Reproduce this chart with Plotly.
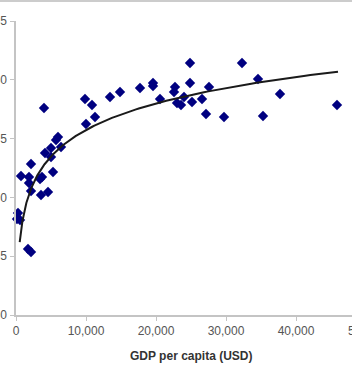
import plotly.graph_objects as go
import numpy as np

# GDP per capita (USD) and life expectancy (years)
gdp = [286, 143, 571, 1714, 2143, 714, 1857, 1857, 2143, 2143,
       3429, 3714, 3571, 4571, 5286, 4143, 5000, 5000, 6000, 6429,
       5714, 4000, 9857, 10857, 11286, 10000, 13429, 14857, 17714, 19571,
       19571, 20571, 22714, 22571, 24857, 24857, 24000, 23000, 23571, 25143,
       26571, 27143, 27571, 29714, 32286, 34571, 35286, 37714, 45857]
life = [68.67, 68.16, 68.08, 65.61, 65.36, 71.82, 71.73, 71.22, 72.84, 70.54,
        71.56, 71.73, 70.20, 70.46, 72.16, 73.78, 74.20, 73.44, 75.14, 74.29,
        74.88, 77.60, 78.37, 77.86, 76.84, 76.24, 78.54, 78.96, 79.30, 79.73,
        79.47, 78.37, 79.39, 78.96, 81.43, 79.73, 78.54, 78.03, 77.86, 78.11,
        78.37, 77.09, 79.39, 76.84, 81.43, 80.07, 76.92, 78.79, 77.86]

# logarithmic trendline shown in the picture: life = A + B * ln(gdp)
trend_a = 45.8
trend_b = 3.25
trend_x_start = 530
trend_x_end = 46000

x_ticks = [0, 10000, 20000, 30000, 40000, 50000]
x_tick_text = ["0", "10,000", "20,000", "30,000", "40,000", "50,000"]
y_ticks = [60, 65, 70, 75, 80, 85]
x_title = "GDP per capita (USD)"

X_MAX = 48000
W, H = 352, 380
ML, MR, MT, MB = 16, 0, 21, 65
PW, PH = W - ML - MR, H - MT - MB

tx = np.geomspace(trend_x_start, trend_x_end, 200)
ty = trend_a + trend_b * np.log(tx)

fig = go.Figure()
fig.add_trace(go.Scatter(x=gdp, y=life, mode="markers",
                         marker=dict(symbol="diamond", size=8, color="#000080",
                                     line=dict(width=0)),
                         cliponaxis=False))
fig.add_trace(go.Scatter(x=tx, y=ty, mode="lines",
                         line=dict(color="#1a1a1a", width=2)))

FONT = "Liberation Sans, Arial, sans-serif"
tick_font = dict(family=FONT, size=12, color="#555555")
shown = [v for v in x_ticks if v <= X_MAX]
fig.update_layout(
    width=W, height=H, margin=dict(l=ML, r=MR, t=MT, b=MB, autoexpand=False),
    paper_bgcolor="white", plot_bgcolor="white", showlegend=False,
    xaxis=dict(range=[0, X_MAX], tickvals=shown,
               ticktext=x_tick_text[:len(shown)], showgrid=False, zeroline=False,
               showline=True, linecolor="#c4c4c4", linewidth=1.5,
               ticks="outside", ticklen=4, tickcolor="#c4c4c4",
               tickfont=tick_font, automargin=False),
    yaxis=dict(range=[y_ticks[0], y_ticks[-1]], tickvals=y_ticks,
               showgrid=False, zeroline=False,
               showline=True, linecolor="#c4c4c4", linewidth=1.5,
               ticks="outside", ticklen=4, tickcolor="#c4c4c4",
               ticklabelstandoff=1,
               tickfont=tick_font, automargin=False),
)

# tick labels beyond the visible range (cut off by the frame)
for v, t in zip(x_ticks, x_tick_text):
    if v > X_MAX:
        fig.add_annotation(x=v / X_MAX, xref="paper", y=0, yref="paper",
                           text=t, showarrow=False, xanchor="center",
                           yanchor="top", yshift=-7, font=tick_font)

# axis title centred on the full (uncropped) axis
fig.add_annotation(x=x_ticks[-1] / X_MAX / 2, xref="paper", y=0, yref="paper",
                   yshift=-32, xanchor="center", yanchor="top", showarrow=False,
                   text="<b>" + x_title + "</b>",
                   font=dict(family=FONT, size=12, color="#333333"))

# thin frame line at the top edge
fig.add_shape(type="line", xref="paper", yref="paper",
              x0=-ML / PW, x1=1, y0=1 + (MT - 1) / PH, y1=1 + (MT - 1) / PH,
              line=dict(color="#cccccc", width=2))

fig.write_html("out.html")
